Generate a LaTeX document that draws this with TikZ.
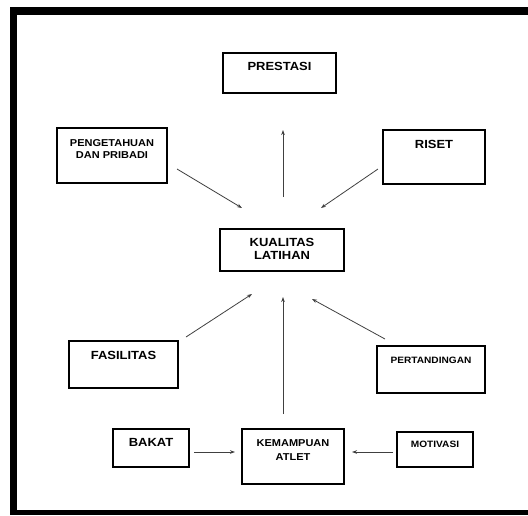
\documentclass[tikz,border=0pt]{standalone}
\usepackage{fontspec}
\newfontfamily\boxfont[FakeStretch=1.1]{Liberation Sans}
\usetikzlibrary{arrows.meta}
\begin{document}
\begin{tikzpicture}[x=1pt,y=-1pt,
  box/.style={draw=black,line width=1.6pt,rectangle,inner sep=0pt},
  lblbig/.style={anchor=base,inner sep=0pt,font=\boxfont\bfseries\fontsize{11.8}{13}\selectfont},
  lblmid/.style={anchor=base,inner sep=0pt,font=\boxfont\bfseries\fontsize{10}{12}\selectfont},
  lblsmall/.style={anchor=base,inner sep=0pt,font=\boxfont\bfseries\fontsize{9.2}{11}\selectfont},
  arr/.style={draw=black!75,line width=0.8pt,-{Stealth[length=5pt,width=3.6pt]}},
  frame/.style={fill=black,draw=none}]
\useasboundingbox (0,0) rectangle (528,515);
% frame
\fill[frame] (10,7) rectangle (528,15);
\fill[frame] (10,7) rectangle (17,515);
\fill[frame] (10,510) rectangle (528,515);
% boxes
\node[box,minimum width=113,minimum height=40] (prestasi) at (279.5,73) {};
\node[box,minimum width=110,minimum height=55] (pengetahuan) at (112,155.5) {};
\node[box,minimum width=102,minimum height=54] (riset) at (434,157) {};
\node[box,minimum width=124,minimum height=42] (kualitas) at (282,250) {};
\node[box,minimum width=109,minimum height=47] (fasilitas) at (123.5,364.5) {};
\node[box,minimum width=108,minimum height=47] (pertandingan) at (431,369.5) {};
\node[box,minimum width=76,minimum height=38] (bakat) at (151,448) {};
\node[box,minimum width=102,minimum height=55] (kemampuan) at (293,456.5) {};
\node[box,minimum width=76,minimum height=35] (motivasi) at (435,449.5) {};
% labels
\node[lblbig] (tprestasi) at (279.5,70.5) {PRESTASI};
\node[lblmid] (tpeng1) at (112,146) {PENGETAHUAN};
\node[lblmid] (tpeng2) at (112,158.5) {DAN PRIBADI};
\node[lblbig] (triset) at (434,148) {RISET};
\node[lblbig] (tkual1) at (282,246) {KUALITAS};
\node[lblbig] (tkual2) at (282,259.5) {LATIHAN};
\node[lblbig] (tfas) at (123.5,359) {FASILITAS};
\node[lblsmall] (tpert) at (431,363) {PERTANDINGAN};
\node[lblbig] (tbakat) at (151,446.5) {BAKAT};
\node[lblmid] (tkem1) at (293,446) {KEMAMPUAN};
\node[lblmid] (tkem2) at (293,460) {ATLET};
\node[lblsmall] (tmot) at (435,447) {MOTIVASI};
% arrow ends
\coordinate (a1s) at (283,197); \coordinate (a1e) at (283,130);
\coordinate (a2s) at (177,169); \coordinate (a2e) at (242,208);
\coordinate (a3s) at (378,169); \coordinate (a3e) at (321,208);
\coordinate (a4s) at (186,337); \coordinate (a4e) at (252,294);
\coordinate (a5s) at (283,414); \coordinate (a5e) at (283,297);
\coordinate (a6s) at (385,339); \coordinate (a6e) at (312,299);
\coordinate (a7s) at (194,452); \coordinate (a7e) at (235,452);
\coordinate (a8s) at (393,452); \coordinate (a8e) at (352,452);
\draw[arr] (a1s) -- (a1e);
\draw[arr] (a2s) -- (a2e);
\draw[arr] (a3s) -- (a3e);
\draw[arr] (a4s) -- (a4e);
\draw[arr] (a5s) -- (a5e);
\draw[arr] (a6s) -- (a6e);
\draw[arr] (a7s) -- (a7e);
\draw[arr] (a8s) -- (a8e);
\end{tikzpicture}
\end{document}
